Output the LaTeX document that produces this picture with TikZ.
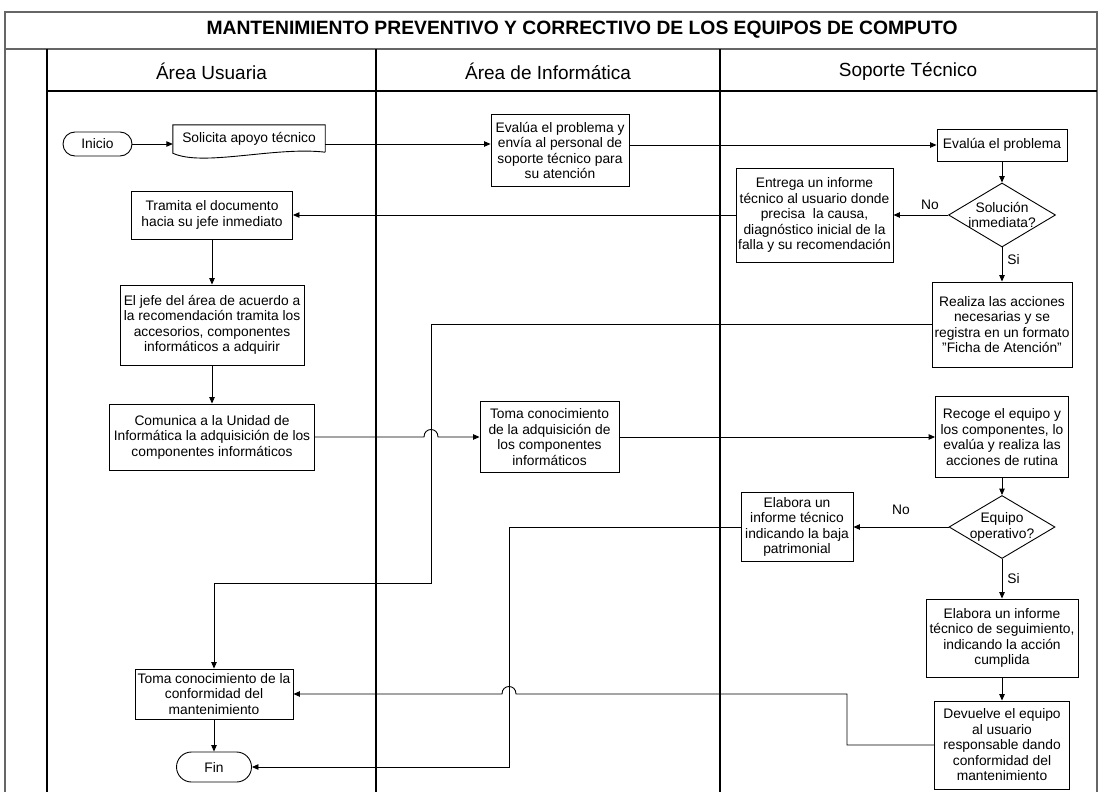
\documentclass[tikz,border=0pt]{standalone}
\usepackage{fontspec}
\setmainfont{Liberation Sans}
\usetikzlibrary{shapes.geometric,arrows.meta,calc}

\newcommand\letra{\fontsize{13.8}{15.5}\selectfont}

\tikzset{
  proceso/.style={draw,rectangle,align=center,inner sep=0pt,font=\letra,line width=.9pt},
  decision/.style={draw,diamond,inner sep=0pt,line width=.9pt},
  terminal/.style={draw,rectangle,rounded corners=12pt,align=center,inner sep=0pt,font=\letra,line width=.9pt},
  flecha/.style={-{Triangle[length=6.5pt,width=5.5pt]},line width=.9pt},
  linea/.style={line width=.9pt},
  etiqueta/.style={font=\letra,inner sep=1pt},
  carril/.style={line width=1.2pt},
  marco/.style={draw=black!60,line width=1.8pt}
}

\begin{document}
\begin{tikzpicture}[x=1pt,y=-1pt]
\useasboundingbox (0,0) rectangle (1099,792);
\draw[marco] (5,792) -- (5,12) -- (1097,12) -- (1097,792);
\draw[marco] (5,49) -- (1097,49);
\draw[carril] (47,49) -- (47,792);
\draw[carril] (47,91) -- (1097,91);
\draw[carril] (376,49) -- (376,792);
\draw[carril] (720,49) -- (720,792);
\node[font=\fontsize{19.3}{22}\selectfont\bfseries] (titulo) at (582,30) {MANTENIMIENTO PREVENTIVO Y CORRECTIVO DE LOS EQUIPOS DE COMPUTO};
\node[font=\fontsize{19}{22}\selectfont] (cab1) at (211.5,71) {Área Usuaria};
\node[font=\fontsize{19}{22}\selectfont] (cab2) at (548,71) {Área de Informática};
\node[font=\fontsize{19}{22}\selectfont] (cab3) at (908,71) {Soporte Técnico};

\node[terminal,minimum width=69,minimum height=24] (inicio) at (97.5,144) {Inicio};
\node[font=\letra,minimum width=152,minimum height=28,inner sep=0pt] (solicita) at (249,139) {Solicita apoyo técnico};
\draw[linea] ([yshift=1pt]solicita.south east) -- (solicita.north east) -- (solicita.north west) -- (solicita.south west) .. controls +(30,14) and +(-50,-6) .. ([yshift=1pt]solicita.south east);
\node[proceso,minimum width=138,minimum height=72] (envia) at (560,150.5) {Evalúa el problema y\\envía al personal de\\soporte técnico para\\su atención};
\node[proceso,minimum width=130,minimum height=32] (evalua) at (1002,145) {Evalúa el problema};
\node[decision,minimum width=107,minimum height=64,label={[font=\letra,align=center]center:Solución\\inmediata?}] (sol) at (1002,215) {};
\node[proceso,minimum width=157,minimum height=94] (entrega) at (814.5,215) {Entrega un informe\\técnico al usuario donde\\precisa\ \ la causa,\\diagnóstico inicial de la\\falla y su recomendación};
\node[proceso,minimum width=161,minimum height=48] (tramita) at (212,215) {Tramita el documento\\hacia su jefe inmediato};
\node[proceso,minimum width=140,minimum height=85] (realiza) at (1002,324.5) {Realiza las acciones\\necesarias y se\\registra en un formato\\"Ficha de Atención"};
\node[proceso,minimum width=184,minimum height=80] (jefe) at (212,325) {El jefe del área de acuerdo a\\la recomendación tramita los\\accesorios, componentes\\informáticos a adquirir};
\node[proceso,minimum width=205,minimum height=66] (comunica) at (212,437) {Comunica a la Unidad de\\Informática la adquisición de los\\componentes informáticos};
\node[proceso,minimum width=139,minimum height=71] (tomaadq) at (549.5,437) {Toma conocimiento\\de la adquisición de\\los componentes\\informáticos};
\node[proceso,minimum width=133,minimum height=81] (recoge) at (1002,437) {Recoge el equipo y\\los componentes, lo\\evalúa y realiza las\\acciones de rutina};
\node[decision,minimum width=106,minimum height=63,label={[font=\letra,align=center]center:Equipo\\operativo?}] (equipo) at (1002,527) {};
\node[proceso,minimum width=112,minimum height=69] (baja) at (797,527) {Elabora un\\informe técnico\\indicando la baja\\patrimonial};
\node[proceso,minimum width=152,minimum height=78] (seguim) at (1002,638) {Elabora un informe\\técnico de seguimiento,\\indicando la acción\\cumplida};
\node[proceso,minimum width=135,minimum height=88] (devuelve) at (1002,745) {Devuelve el equipo\\al usuario\\responsable dando\\conformidad del\\mantenimiento};
\node[proceso,minimum width=158,minimum height=50] (tomaconf) at (214,694) {Toma conocimiento de la\\conformidad del\\mantenimiento};
\node[terminal,rounded corners=15pt,minimum width=75,minimum height=30] (fin) at (214,767) {Fin};

\coordinate (q1) at (431,583);
\coordinate (q2) at (509,767);
\coordinate (q3) at (847,694);

\draw[flecha] (inicio) -- (inicio -| solicita.west);
\draw[flecha] (inicio -| solicita.east) -- (inicio -| envia.west);
\draw[flecha] (envia.east |- evalua) -- (evalua.west);
\draw[flecha] (evalua) -- (sol);
\draw[flecha] (sol) -- node[etiqueta,above=4pt,pos=.33]{No} (entrega);
\draw[flecha] (entrega) -- (tramita);
\draw[flecha] (sol) -- node[etiqueta,right=4pt,pos=.35]{Si} (realiza);
\draw[flecha] (tramita) -- (jefe);
\draw[flecha] (jefe) -- (comunica);
\draw[flecha] (comunica.east) -- ($(q1 |- comunica.east)+(-7,0)$) .. controls +(0,-10) and +(0,-10) .. ($(q1 |- comunica.east)+(7,0)$) -- (tomaadq.west);
\draw[flecha] (tomaadq) -- (recoge);
\draw[flecha] (recoge) -- (equipo);
\draw[flecha] (equipo) -- node[etiqueta,above=11pt]{No} (baja);
\draw[flecha] (equipo) -- node[etiqueta,right=4pt]{Si} (seguim);
\draw[flecha] (seguim) -- (devuelve);
\draw[flecha] (realiza.west) -| (q1) -| (tomaconf.north);
\draw[flecha] (baja.west) -| (q2) -- (fin.east);
\draw[flecha] (devuelve.west) -| (q3) -- ($(q2 |- q3)+(7,0)$) .. controls +(0,-10) and +(0,-10) .. ($(q2 |- q3)+(-7,0)$) -- (tomaconf.east);
\draw[flecha] (tomaconf) -- (fin);
\end{tikzpicture}
\end{document}
